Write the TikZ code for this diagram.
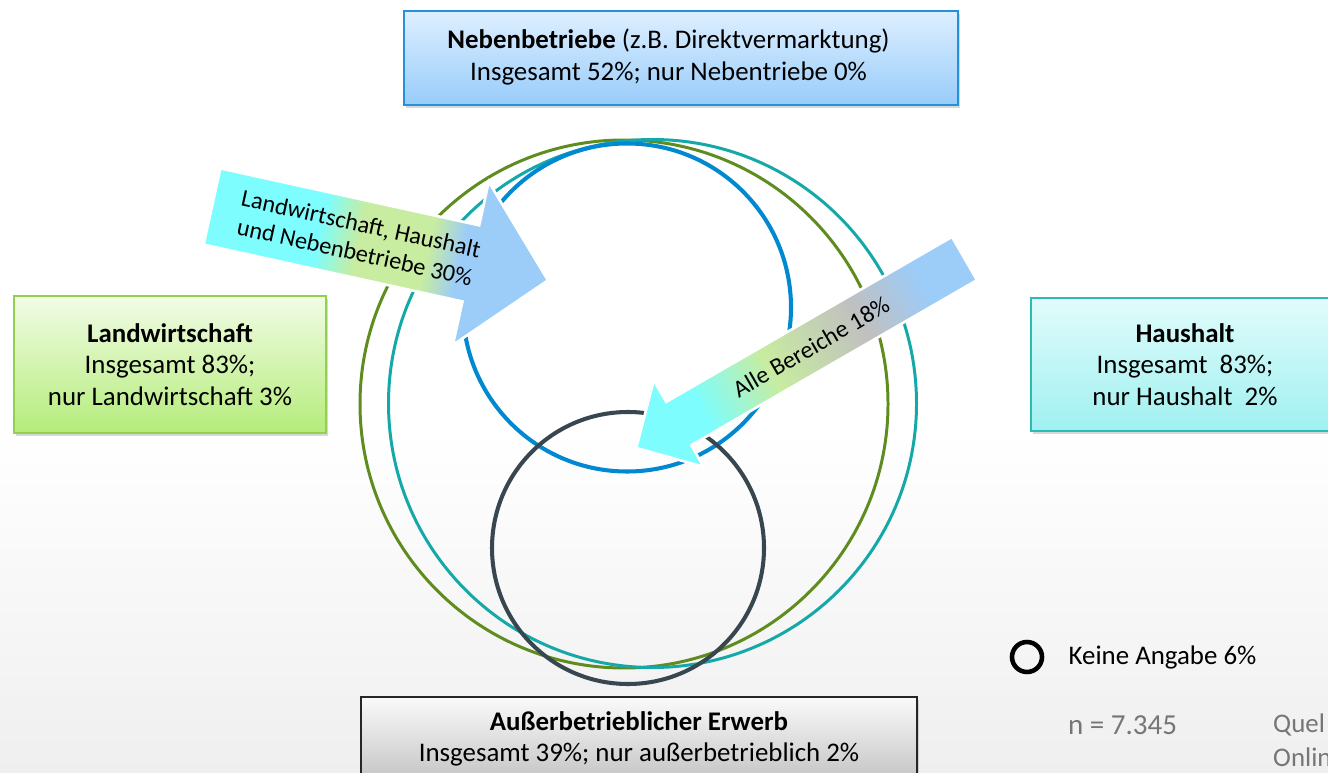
\documentclass[tikz,border=0pt]{standalone}
\usepackage{fontspec}
\setmainfont{Carlito}
\usetikzlibrary{positioning, shadows}

\definecolor{ringgreen}{RGB}{94,140,30}
\definecolor{ringteal}{RGB}{20,168,168}
\definecolor{ringblue}{RGB}{0,136,209}
\definecolor{ringdark}{RGB}{55,70,79}
\definecolor{nebenedge}{RGB}{36,146,216}
\definecolor{nebentop}{RGB}{222,239,255}
\definecolor{nebenbot}{RGB}{152,204,250}
\definecolor{landedge}{RGB}{146,208,80}
\definecolor{landtop}{RGB}{242,252,230}
\definecolor{landbot}{RGB}{180,236,122}
\definecolor{hausedge}{RGB}{43,186,180}
\definecolor{haustop}{RGB}{226,252,252}
\definecolor{hausbot}{RGB}{160,240,240}
\definecolor{erwerbtop}{RGB}{250,250,250}
\definecolor{erwerbbot}{RGB}{196,196,196}
\definecolor{bggray}{RGB}{239,239,239}
\definecolor{notegray}{RGB}{118,118,118}
\definecolor{pcyan}{RGB}{125,253,253}
\definecolor{pgreen}{RGB}{200,236,160}
\definecolor{pblue}{RGB}{156,204,248}
\definecolor{pgray}{RGB}{192,192,192}

% gradients along the two block arrows (25bp..75bp = path extent)
\pgfdeclarehorizontalshading{arrowone}{100bp}{color(0bp)=(pcyan); color(41bp)=(pcyan);
  color(47bp)=(pgreen); color(57bp)=(pgreen); color(62bp)=(pblue); color(100bp)=(pblue)}
\pgfdeclarehorizontalshading{arrowtwo}{100bp}{color(0bp)=(pcyan); color(35bp)=(pcyan);
  color(45.5bp)=(pgreen); color(59bp)=(pgray); color(68.5bp)=(pblue); color(100bp)=(pblue)}

\begin{document}
\begin{tikzpicture}[
  x=0.02cm, y=-0.02cm,
  node distance=8mm,
  font=\fontsize{15.3pt}{18pt}\selectfont,
  box/.style={
    rectangle,
    line width=0.9pt,
    inner sep=2mm,
    align=center,
    drop shadow={shadow xshift=1pt, shadow yshift=-1.5pt, opacity=.3}
  },
  nebenbox/.style={box, draw=nebenedge, top color=nebentop, bottom color=nebenbot,
    minimum width=11.08cm, minimum height=1.88cm},
  landbox/.style={box, draw=landedge, top color=landtop, bottom color=landbot,
    minimum width=6.24cm, minimum height=2.74cm},
  hausbox/.style={box, draw=hausedge, top color=haustop, bottom color=hausbot,
    minimum width=6.16cm, minimum height=2.66cm},
  erwerbbox/.style={box, draw=black!85, top color=erwerbtop, bottom color=erwerbbot,
    minimum width=11.12cm, minimum height=1.68cm},
  ring/.style={line width=1.7pt},
  arrowbody/.style={draw=white, line width=1.5pt, shade},
  arrowtext/.style={font=\fontsize{13.8pt}{16.5pt}\selectfont, align=center, inner sep=0pt},
  note/.style={text=notegray, anchor=west}
]

\useasboundingbox (0,0) rectangle (1328,773);
\fill[white] (0,0) rectangle (1328,430);
\shade[top color=white, bottom color=bggray] (0,430) rectangle (1328,773);

% sets
\draw[ring, ringgreen] (624,404) circle[radius=264];
\draw[ring, ringteal] (652.5,403.5) circle[radius=264];
\draw[ring, ringblue, line width=2.3pt] (627,307.5) circle[radius=164];
\draw[ring, ringdark, line width=2.3pt] (628,548) circle[radius=136];

% labels
\node[nebenbox] (neben) at (681,58) {\begin{tabular}{@{}c@{}}\textbf{Nebenbetriebe} (z.B. Direktvermarktung)\\Insgesamt 52\%; nur Nebentriebe 0\%\end{tabular}\hspace{0.5cm}};
\node[landbox] (landw) at (170,364.5) {\textbf{Landwirtschaft}\\Insgesamt 83\%;\\nur Landwirtschaft 3\%};
\node[hausbox] (haush) at (1185,364.5) {\textbf{Haushalt}\\Insgesamt~ 83\%;\\nur Haushalt~ 2\%};
\node[erwerbbox] (erwerb) at (639,739) {\textbf{Außerbetrieblicher Erwerb}\\Insgesamt 39\%; nur außerbetrieblich 2\%};

% block arrows
\begin{scope}[transform canvas={shift={(212,206.5)}, rotate=-12.4}]
  \path[arrowbody, shading=arrowone] (0,-39) -- (265,-39) -- (265,-83.5) -- (344,0)
    -- (265,83.5) -- (265,39) -- (0,39) -- cycle;
\end{scope}
\begin{scope}[transform canvas={shift={(964.5,258.5)}, rotate=30}]
  \path[arrowbody, shading=arrowtwo] (0,-25) -- (-330,-25) -- (-330,-50) -- (-379,0)
    -- (-330,50) -- (-330,25) -- (0,25) -- cycle;
\end{scope}
\node[arrowtext, rotate=-12.4] (dreib) at (358,238) {Landwirtschaft, Haushalt\\und Nebenbetriebe 30\%};
\node[arrowtext, rotate=30] (alleb) at (811,347) {Alle Bereiche 18\%};

% legend
\node[circle, draw, line width=2.6pt, minimum size=0.6cm, inner sep=0pt] (keine) at (1027,657) {};
\node[right=0.48cm of keine, inner sep=0pt] (keinetext) {Keine Angabe 6\%};
\node[note, font=\fontsize{16.5pt}{19pt}\selectfont] (nsize) at (1062,725) {n = 7.345};
\node[note] (quelle) at (1267,725) {Quel};
\node[note] (online) at (1267,757) {Onlin};

\end{tikzpicture}
\end{document}
